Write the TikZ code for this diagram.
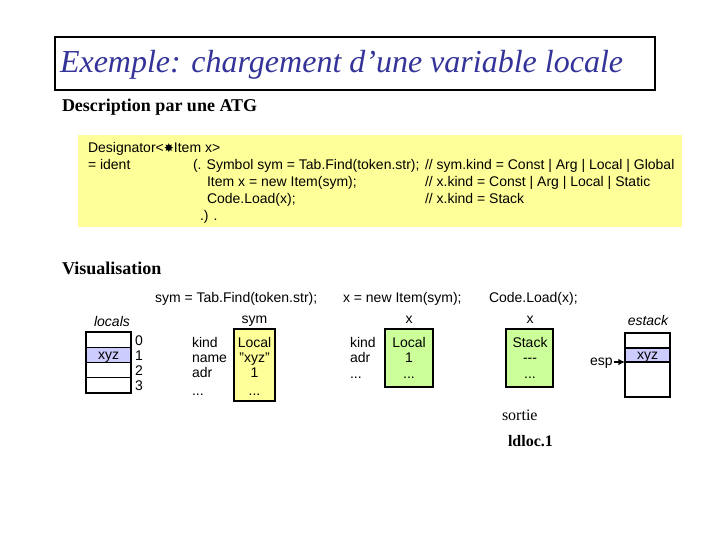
\documentclass[tikz,border=0pt]{standalone}
\usepackage{fontspec}
\setmainfont{Liberation Serif}
\setsansfont{Liberation Sans}
\newfontfamily\symfont{DejaVu Sans}
\usetikzlibrary{arrows.meta}
\definecolor{titleblue}{RGB}{51,51,153}
\definecolor{codeyellow}{RGB}{255,255,153}
\definecolor{boxgreen}{RGB}{204,255,153}
\definecolor{lav}{RGB}{204,204,255}
\begin{document}
\begin{tikzpicture}[x=0.75pt,y=-0.75pt,
  every node/.style={inner sep=0pt,outer sep=0pt},
  ar/.style={font=\sffamily\fontsize{10.5}{12}\selectfont},
  arl/.style={ar,anchor=base west},
  arc/.style={ar,anchor=base},
  hd/.style={font=\bfseries\fontsize{13.5}{16}\selectfont,anchor=base west},
  cell/.style={draw=black,line width=0.8pt}]
\useasboundingbox (0,0) rectangle (720,540);
% title
\draw[line width=0.8pt] (55,37) rectangle (655,90);
\node[anchor=base west,font=\itshape\fontsize{24}{28}\selectfont,text=titleblue] (title) at (60,72) {Exemple: chargement d’une variable locale};
\node[hd] (desc) at (62,111) {Description par une ATG};
% code box
\fill[codeyellow] (78,135) rectangle (682,227);
\node[arl] (c1) at (88,152) {Designator<{\symfont\fontsize{9}{10}\selectfont ✸}Item x>};
\node[arl] (c2a) at (88,169) {= ident};
\node[arl] (c2b) at (193,169) {(. Symbol sym = Tab.Find(token.str);};
\node[arl] (c2c) at (425,169) {// sym.kind = Const | Arg | Local | Global};
\node[arl] (c3b) at (207,186) {Item x = new Item(sym);};
\node[arl] (c3c) at (425,186) {// x.kind = Const | Arg | Local | Static};
\node[arl] (c4b) at (207,203) {Code.Load(x);};
\node[arl] (c4c) at (425,203) {// x.kind = Stack};
\node[arl] (c5b) at (200,220) {.) .};
\node[hd] (vis) at (62,274) {Visualisation};
% headings
\node[arl] (h1) at (155,302) {sym = Tab.Find(token.str);};
\node[arl] (h2) at (343,302) {x = new Item(sym);};
\node[arl] (h3) at (489,302) {Code.Load(x);};
% locals
\node[arc,font=\sffamily\itshape\fontsize{10.5}{12}\selectfont] (locl) at (112,326) {locals};
\fill[lav] (86,347.25) rectangle (131,362.5);
\draw[cell] (86,332) rectangle (131,393);
\draw[cell] (86,347.25) -- (131,347.25) (86,362.5) -- (131,362.5) (86,377.75) -- (131,377.75);
\node[arc] (lx) at (108.5,359) {xyz};
\foreach \i/\yy in {0/345,1/360,2/375,3/390} \node[arl] (n\i) at (135,\yy) {\i};
% sym
\node[arc] (symt) at (254.5,323) {sym};
\draw[cell,fill=codeyellow] (234,329) rectangle (275,401);
\node[arl] (k1) at (192,347) {kind};
\node[arl] (k2) at (192,362) {name};
\node[arl] (k3) at (192,377) {adr};
\node[arl] (k4) at (192,395) {...};
\node[arc] (s1) at (254.5,347) {Local};
\node[arc] (s2) at (254.5,362) {"xyz"};
\node[arc] (s3) at (254.5,377) {1};
\node[arc] (s4) at (254.5,395) {...};
% x
\node[arc] (xt) at (409,323) {x};
\draw[cell,fill=boxgreen] (385,329) rectangle (433,387);
\node[arl] (l1) at (350,347) {kind};
\node[arl] (l2) at (350,362) {adr};
\node[arl] (l3) at (350,378) {...};
\node[arc] (x1) at (409,347) {Local};
\node[arc] (x2) at (409,362) {1};
\node[arc] (x3) at (409,378) {...};
% stack
\node[arc] (xt2) at (530,323) {x};
\draw[cell,fill=boxgreen] (506,329) rectangle (553,387);
\node[arc] (y1) at (530,347) {Stack};
\node[arc] (y2) at (530,362) {{-}{-}{-}};
\node[arc] (y3) at (530,378) {...};
% estack
\node[arc,font=\sffamily\itshape\fontsize{10.5}{12}\selectfont] (est) at (648,325) {estack};
\fill[lav] (625,348) rectangle (670,362);
\draw[cell] (625,333) rectangle (670,397);
\draw[cell] (625,348) -- (670,348) (625,362) -- (670,362);
\node[arc] (ex) at (647.5,359) {xyz};
\node[arl] (esp) at (590,365) {esp};
\coordinate (espt) at (625,362);
\draw[line width=1.5pt,-{Latex[length=5pt,width=5pt]}] (esp.east |- espt) ++(1,0) -- (espt);
% sortie
\node[anchor=base west,font=\fontsize{12}{14}\selectfont] (sortie) at (502,420) {sortie};
\node[anchor=base west,font=\bfseries\fontsize{12}{14}\selectfont] (ldloc) at (508,446) {ldloc.1};
\end{tikzpicture}
\end{document}
